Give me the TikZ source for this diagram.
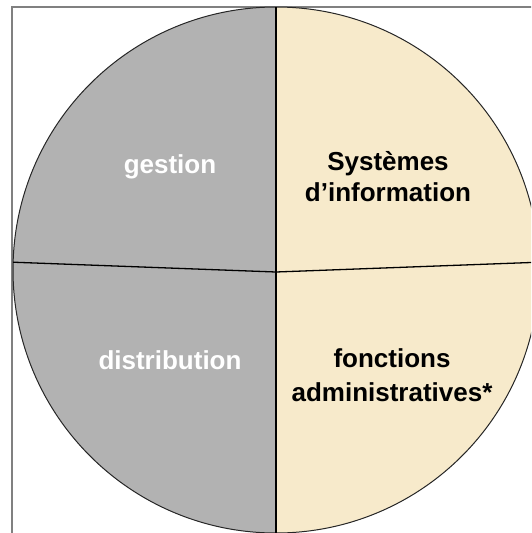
\documentclass[tikz,border=0pt]{standalone}
\usepackage{fontspec}
\setmainfont{Liberation Sans}
\usetikzlibrary{calc}
\definecolor{pieGray}{HTML}{B2B2B2}
\definecolor{pieBeige}{HTML}{F7EACB}
\definecolor{frameGray}{HTML}{808080}
\tikzset{divider/.style={draw=black, line width=1.3pt},
  label/.style={font=\bfseries\fontsize{26}{31}\selectfont, align=center, inner sep=0pt, anchor=base}}

\begin{document}
\begin{tikzpicture}[x=1pt,y=-1pt]
    \useasboundingbox (0,0) rectangle (531,533);
    \clip (0,0) rectangle (531,533);
    \draw[frameGray, line width=2pt] (12,7) rectangle (545,545);
    % pie
    \coordinate (c) at (276,270);
    \coordinate (m) at (276,272);
    \coordinate (top) at (276,7);
    \coordinate (bot) at (276,533);
    \coordinate (west) at ($(c)+(181.7:263)$);
    \coordinate (east) at ($(c)+(-1.7:263)$);
    \fill[pieGray] (top) arc[start angle=-90, end angle=-270, radius=263] -- cycle;
    \fill[pieBeige] (top) arc[start angle=-90, end angle=90, radius=263] -- cycle;
    \draw[line width=1pt, draw=black!85] (c) circle[radius=263];
    \draw[divider] (top) -- (bot);
    \draw[divider] (west) -- (m) -- (east);
    % labels
    \foreach \x/\y/\lab/\tx/\col in {
      170/173/gestion/{gestion}/white,
      388/201/sysinfo/{Systèmes\\d’information}/black,
      170/369/distribution/{distribution}/white,
      392/401/fonctions/{fonctions\\[3pt]administratives*}/black%
    } {
      \node[label, text=\col] (\lab) at (\x, \y) {\tx};
    }
  \end{tikzpicture}
\end{document}
